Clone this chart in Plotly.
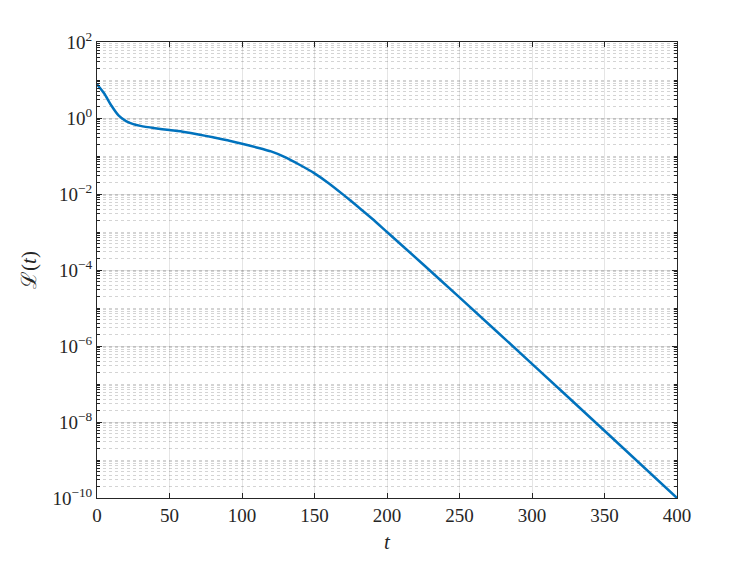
import plotly.graph_objects as go

# loss curve (log y axis)
t = [0, 5, 10, 15, 20, 25, 30, 40, 50, 60, 70, 80, 90, 100, 110, 120,
     130, 140, 150, 160, 170, 180, 190, 200, 225, 250, 300, 350, 400]
loss = [7.7, 4.4, 2.1, 1.15, 0.83, 0.69, 0.62, 0.54, 0.48, 0.43, 0.37,
        0.31, 0.26, 0.21, 0.168, 0.132, 0.092, 0.058, 0.035, 0.019, 0.0095,
        0.0046, 0.0022, 1.0e-3, 1.4e-4, 1.9e-5, 3.4e-7, 5.9e-9, 1.0e-10]

x_ticks = [0, 50, 100, 150, 200, 250, 300, 350, 400]
y_ticks = [1e-10, 1e-8, 1e-6, 1e-4, 1e-2, 1e0, 1e2]
y_labels = ["10<sup>\u221210</sup>", "10<sup>\u22128</sup>", "10<sup>\u22126</sup>",
            "10<sup>\u22124</sup>", "10<sup>\u22122</sup>", "10<sup>0</sup>",
            "10<sup>2</sup>"]

AX = "#262626"
FONT = "Liberation Serif, DejaVu Serif, serif"

fig = go.Figure(go.Scatter(
    x=t, y=loss, mode="lines",
    line=dict(color="#0072BD", width=2.5, shape="spline", smoothing=0.5),
    showlegend=False,
))

# page body adds an 8px offset, so margins are trimmed to land the axes box at (97, 42)
fig.update_layout(
    width=747, height=561,
    margin=dict(l=89, r=78, t=34, b=71),
    paper_bgcolor="white", plot_bgcolor="white",
    font=dict(family=FONT, color=AX, size=19),
    xaxis=dict(
        range=[0, 400], tickvals=x_ticks, ticks="inside", ticklen=5,
        tickcolor=AX, showline=True, linecolor=AX, linewidth=1, mirror="ticks",
        showgrid=True, gridcolor="rgba(38,38,38,0.12)", gridwidth=1, zeroline=False,
        title=dict(text="<i>t</i>", standoff=9, font=dict(size=21)),
    ),
    yaxis=dict(
        type="log", range=[-10, 2], tickvals=y_ticks, ticktext=y_labels,
        ticks="inside", ticklen=5, tickcolor=AX,
        showline=True, linecolor=AX, linewidth=1, mirror="ticks",
        showgrid=True, gridcolor="rgba(38,38,38,0.12)", gridwidth=1, zeroline=False,
        minor=dict(dtick="D1", ticks="inside", ticklen=3, tickcolor=AX,
                   showgrid=True, gridcolor="rgba(38,38,38,0.2)", griddash="dot",
                   gridwidth=1),
        title=dict(text="\u2112(<i>t</i>)", standoff=10, font=dict(size=21)),
    ),
)

fig.write_html("out.html")
